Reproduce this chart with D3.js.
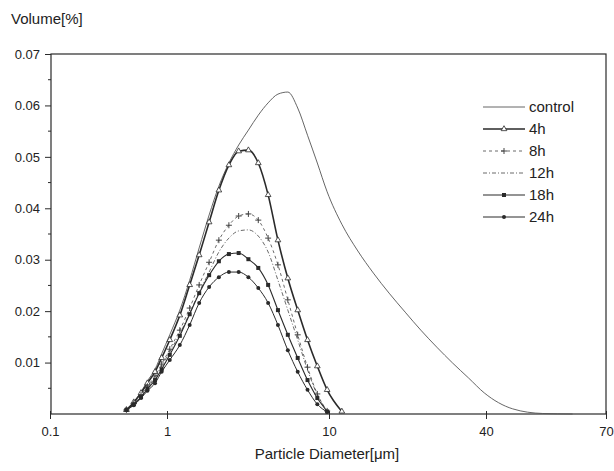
<!DOCTYPE html>
<html lang="en">
<head>
<meta charset="utf-8">
<title>Particle size distribution</title>
<script src="https://d3js.org/d3.v7.min.js"></script>
<style>
  body { margin: 0; background: #fff; }
  text { font-family: "Liberation Sans", Arial, sans-serif; fill: #222; }
</style>
</head>
<body>
<div id="viz"></div>
<script>
// particle size classes (um)
var diameters = [0.45, 0.52, 0.6, 0.68, 0.79, 0.9, 1.04, 1.2, 1.38, 1.58, 1.82, 2.09, 2.41, 2.77, 3.18, 3.66,
  4.21, 4.84, 5.57, 6.41, 7.37, 8.47, 9.74, 11.2, 12.9, 14.8, 17.0, 19.6, 22.5, 25.9, 29.8, 34.3, 39.4, 45.3, 52.1, 59.9];

var control = [0.0008, 0.0023, 0.0043, 0.0064, 0.0087, 0.0117, 0.0154, 0.0202, 0.0260, 0.0323, 0.0387, 0.0443,
  0.0488, 0.0523, 0.0552, 0.0581, 0.0605, 0.0622, 0.0626, 0.0595, 0.0542, 0.0488, 0.0432, 0.0369, 0.0317,
  0.0274, 0.0235, 0.0198, 0.0163, 0.0130, 0.0099, 0.0070, 0.0041, 0.0010, 0.0001, 0];
var h4 = [0.0008, 0.0023, 0.0041, 0.0060, 0.0082, 0.0109, 0.0144, 0.0192, 0.0251, 0.0309, 0.0373, 0.0435,
  0.0484, 0.0511, 0.0513, 0.0488, 0.0426, 0.0338, 0.0264, 0.0202, 0.0144, 0.0093, 0.0047, 0.0005];
var h8 = [0.0008, 0.0021, 0.0037, 0.0054, 0.0074, 0.0097, 0.0126, 0.0163, 0.0206, 0.0251, 0.0295, 0.0338,
  0.0367, 0.0385, 0.0389, 0.0377, 0.0342, 0.0290, 0.0222, 0.0154, 0.0091, 0.0039, 0.0006];
var h12 = [0.0008, 0.0019, 0.0035, 0.0052, 0.0070, 0.0093, 0.0121, 0.0156, 0.0196, 0.0237, 0.0276, 0.0315,
  0.0342, 0.0356, 0.0358, 0.0346, 0.0315, 0.0260, 0.0202, 0.0144, 0.0086, 0.0037, 0.0006];
var h18 = [0.0008, 0.0019, 0.0033, 0.0049, 0.0066, 0.0087, 0.0115, 0.0152, 0.0194, 0.0235, 0.0270, 0.0297,
  0.0311, 0.0313, 0.0301, 0.0284, 0.0251, 0.0202, 0.0154, 0.0109, 0.0066, 0.0031, 0.0005];
var h24 = [0.0008, 0.0017, 0.0031, 0.0045, 0.0060, 0.0082, 0.0105, 0.0134, 0.0173, 0.0216, 0.0247, 0.0266,
  0.0276, 0.0276, 0.0266, 0.0245, 0.0216, 0.0173, 0.0124, 0.0082, 0.0047, 0.0019, 0.0004];

var seriesNames = ["control", "4h", "8h", "12h", "18h", "24h"];
var xTicks = [0.1, 1, 10, 40, 70];
var yTicks = [0.01, 0.02, 0.03, 0.04, 0.05, 0.06, 0.07];
var yMinorTicks = [0.005, 0.015, 0.025, 0.035, 0.045, 0.055, 0.065];

var width = 614, height = 471;
var plot = {left: 51, right: 606, top: 54, bottom: 414};

var svg = d3.select("#viz").append("svg")
  .attr("width", width)
  .attr("height", height);

// the x axis of the original is not a plain log axis, so piece it together
var x = d3.scaleLog()
  .domain(xTicks)
  .range([50, 167, 329, 486, 606]);
var y = d3.scaleLinear()
  .domain([0, 0.07])
  .range([plot.bottom, plot.top]);

var ink = "#2a2a2a";

// frame
svg.append("rect")
  .attr("x", plot.left).attr("y", plot.top)
  .attr("width", plot.right - plot.left).attr("height", plot.bottom - plot.top)
  .attr("fill", "none").attr("stroke", ink).attr("stroke-width", 1.2);

// y axis ticks
svg.append("g")
  .attr("transform", "translate(" + plot.left + ",0)")
  .call(d3.axisLeft(y).tickValues(yTicks).tickSize(6).tickPadding(5).tickFormat(d3.format(".2f")))
  .call(function(g) {
    g.select(".domain").remove();
    g.selectAll("line").attr("stroke", ink);
    g.selectAll("text").style("font-size", "13px").attr("fill", "#222");
  });
svg.append("g")
  .selectAll("line")
  .data(yMinorTicks)
  .enter().append("line")
  .attr("x1", plot.left - 3).attr("x2", plot.left)
  .attr("y1", function(d) { return y(d); })
  .attr("y2", function(d) { return y(d); })
  .attr("stroke", ink);

// x axis ticks
svg.append("g")
  .attr("transform", "translate(0," + plot.bottom + ")")
  .call(d3.axisBottom(x).tickValues(xTicks).tickSize(5).tickPadding(8).tickFormat(function(d) { return d; }))
  .call(function(g) {
    g.select(".domain").remove();
    g.selectAll("line").attr("stroke", ink).attr("y1", -3);
    g.selectAll("text").style("font-size", "13px").attr("fill", "#222");
  });

// axis titles
svg.append("text")
  .attr("x", 11).attr("y", 24)
  .style("font-size", "15px")
  .text("Volume[%]");
svg.append("text")
  .attr("x", 327).attr("y", 459)
  .attr("text-anchor", "middle")
  .style("font-size", "15px")
  .text("Particle Diameter[\u03bcm]");

var series = [
  { name: "control", values: control, width: 0.9, dash: null, marker: null, color: "#555" },
  { name: "4h", values: h4, width: 1.6, dash: null, marker: "tri", color: ink },
  { name: "8h", values: h8, width: 0.8, dash: "3,3", marker: "plus", color: "#444" },
  { name: "12h", values: h12, width: 0.8, dash: "4,2,1,2", marker: null, color: "#444" },
  { name: "18h", values: h18, width: 1.1, dash: null, marker: "square", color: ink },
  { name: "24h", values: h24, width: 1.0, dash: null, marker: "dot", color: ink }
];

var line = d3.line()
  .x(function(d) { return x(d[0]); })
  .y(function(d) { return y(d[1]); })
  .curve(d3.curveMonotoneX);

function drawMarker(g, type, color) {
  if (type == "tri") {
    g.append("path").attr("d", d3.symbol().type(d3.symbolTriangle).size(14))
      .attr("fill", "#fff").attr("stroke", color).attr("stroke-width", 0.8);
  } else if (type == "plus") {
    g.append("path").attr("d", "M-3,0H3M0,-3V3")
      .attr("stroke", color).attr("stroke-width", 1);
  } else if (type == "square") {
    g.append("rect").attr("x", -2).attr("y", -2).attr("width", 4).attr("height", 4)
      .attr("fill", color);
  } else if (type == "dot") {
    g.append("circle").attr("r", 2).attr("fill", color);
  }
}

series.forEach(function(s) {
  var pts = s.values.map(function(v, i) { return [diameters[i], v]; });
  svg.append("path")
    .datum(pts)
    .attr("d", line)
    .attr("fill", "none")
    .attr("stroke", s.color)
    .attr("stroke-width", s.width)
    .attr("stroke-dasharray", s.dash);
  if (s.marker) {
    svg.append("g").selectAll("g")
      .data(pts)
      .enter().append("g")
      .attr("transform", function(d) { return "translate(" + x(d[0]) + "," + y(d[1]) + ")"; })
      .each(function() { drawMarker(d3.select(this), s.marker, s.color); });
  }
});

// legend
var legend = svg.append("g");
series.forEach(function(s, i) {
  var ly = 107 + i * 22;
  legend.append("line")
    .attr("x1", 483).attr("x2", 525)
    .attr("y1", ly).attr("y2", ly)
    .attr("stroke", s.color)
    .attr("stroke-width", s.width)
    .attr("stroke-dasharray", s.dash);
  if (s.marker) {
    var m = legend.append("g").attr("transform", "translate(504," + ly + ")");
    drawMarker(m, s.marker, s.color);
  }
  legend.append("text")
    .attr("x", 529).attr("y", ly + 5)
    .style("font-size", "15px")
    .text(seriesNames[i]);
});
</script>
</body>
</html>
